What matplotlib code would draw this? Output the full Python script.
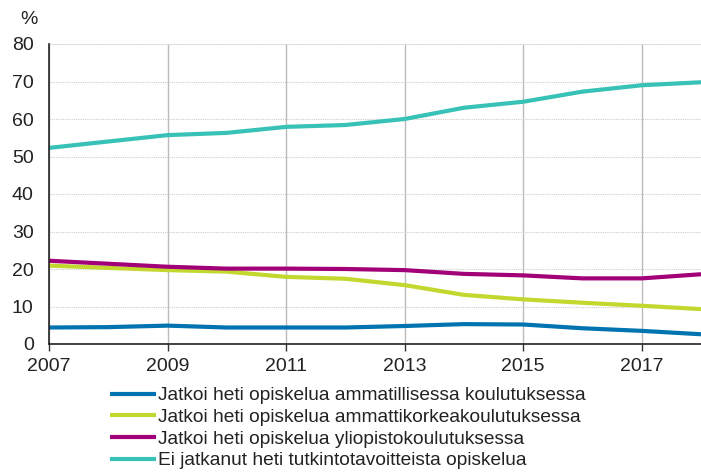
import matplotlib
matplotlib.use("Agg")
import matplotlib.pyplot as plt
import numpy as np

plt.rcParams['font.family'] = ['Liberation Sans', 'DejaVu Sans']

vuodet = [2007, 2008, 2009, 2010, 2011, 2012, 2013, 2014, 2015, 2016, 2017, 2018]
ammatillinen = [4.4, 4.5, 4.9, 4.4, 4.4, 4.4, 4.8, 5.3, 5.2, 4.2, 3.5, 2.6]
amk = [20.9, 20.3, 19.7, 19.3, 17.9, 17.4, 15.7, 13.1, 11.9, 11.0, 10.2, 9.3]
yliopisto = [22.2, 21.4, 20.6, 20.1, 20.1, 20.0, 19.7, 18.7, 18.3, 17.5, 17.5, 18.6]
ei_jatkanut = [52.3, 54.0, 55.7, 56.3, 57.9, 58.4, 60.0, 63.0, 64.6, 67.3, 69.0, 69.8]

sarjat = [
    ("Jatkoi heti opiskelua ammatillisessa koulutuksessa", ammatillinen, "#0073b0"),
    ("Jatkoi heti opiskelua ammattikorkeakoulutuksessa", amk, "#c3d82e"),
    ("Jatkoi heti opiskelua yliopistokoulutuksessa", yliopisto, "#a10078"),
    ("Ei jatkanut heti tutkintotavoitteista opiskelua", ei_jatkanut, "#38c2b7"),
]

fig = plt.figure(figsize=(7.01, 4.72), dpi=100)
ax = fig.add_axes([49 / 701, 1 - 344 / 472, 652 / 701, 300 / 472])

for nimi, arvot, vari in sarjat:
    ax.plot(vuodet, arvot, color=vari, linewidth=3, label=nimi, solid_capstyle='butt')

ax.set_xlim(2007, 2018)
ax.set_ylim(0, 80)
ax.set_xticks([2007, 2009, 2011, 2013, 2015, 2017])
ax.set_yticks(range(0, 81, 10))
ax.tick_params(axis='both', labelsize=14, colors='#333333', labelcolor='#222222')
ax.tick_params(axis='y', length=0, pad=11)
ax.tick_params(axis='x', length=5, width=1, color='#333333', pad=5)

ax.grid(axis='x', color='#bbbbbb', linewidth=1, linestyle='-')
ax.grid(axis='y', color='#cccccc', linewidth=0.8, linestyle=(0, (1, 1)))
ax.axhline(80, color='#dddddd', linewidth=1.2)
ax.set_axisbelow(True)

for s in ['top', 'right']:
    ax.spines[s].set_visible(False)
ax.spines['left'].set_color('#222222')
ax.spines['bottom'].set_color('#222222')
ax.spines['left'].set_linewidth(1.2)
ax.spines['bottom'].set_linewidth(1.2)

fig.text(20 / 701, 1 - 19 / 472, "%", fontsize=14, color='#222222', ha='left', va='center')

leg = fig.legend(loc='upper left', bbox_to_anchor=(110 / 701, 1 - 387 / 472), frameon=False,
                 fontsize=13.8, handlelength=2.4, handletextpad=0.1, labelspacing=0.22,
                 borderaxespad=0, borderpad=0)
for t in leg.get_texts():
    t.set_color('#222222')

fig.savefig("out.png", dpi=100)
